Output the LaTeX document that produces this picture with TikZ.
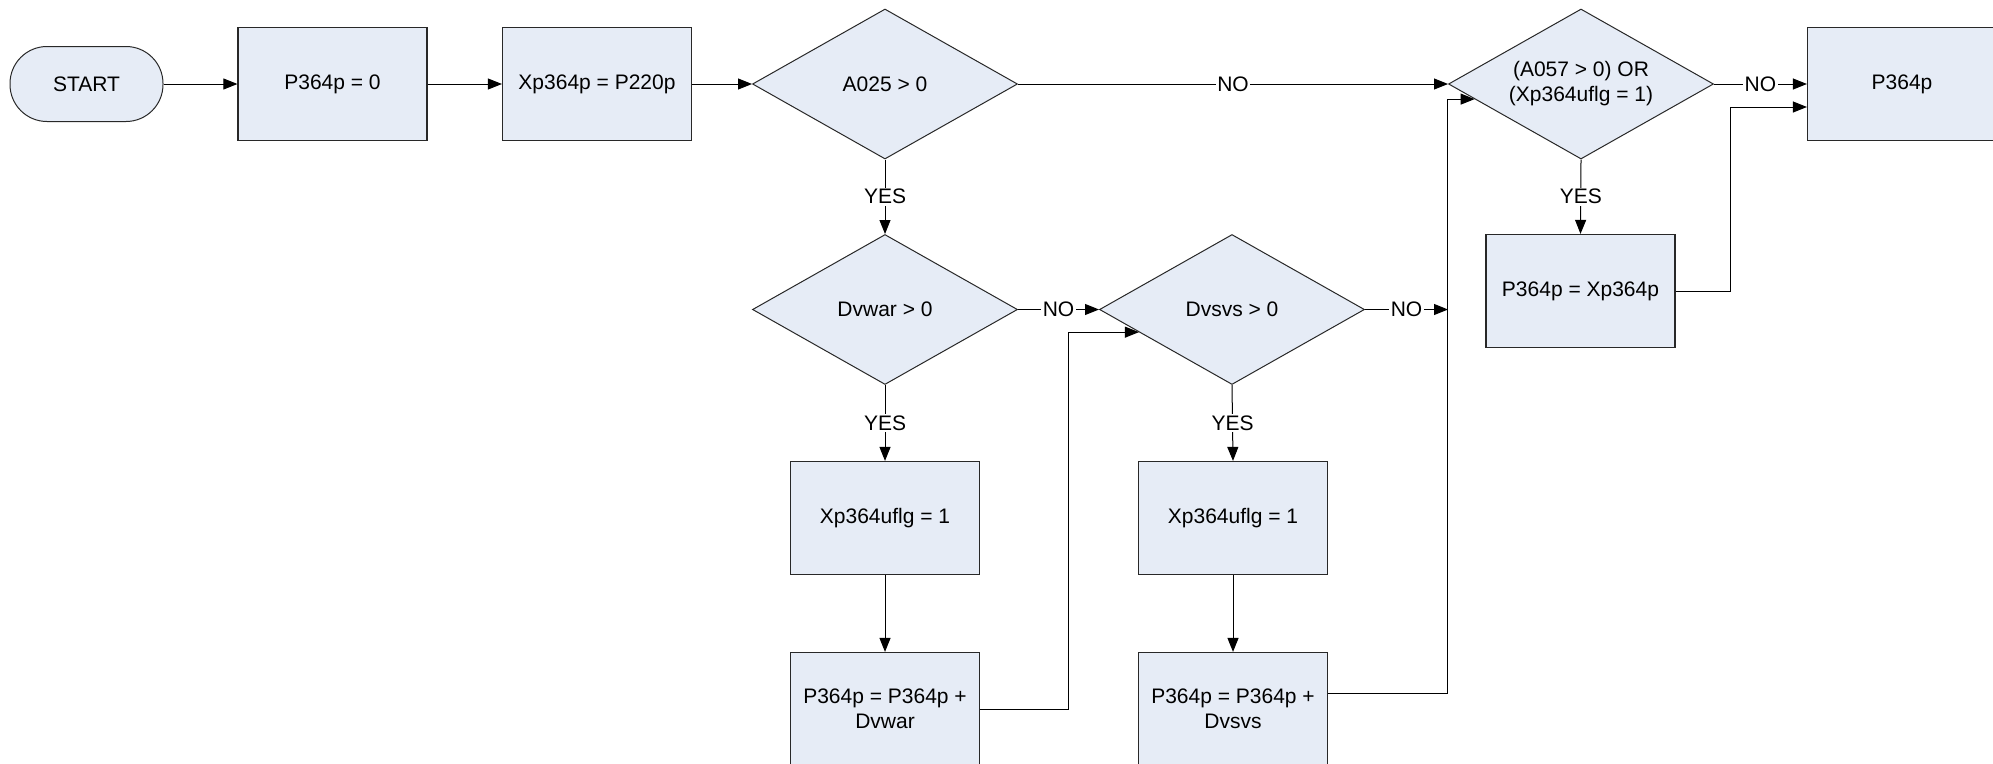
\documentclass[tikz,border=0pt]{standalone}
\usepackage{fontspec}
\setmainfont{Liberation Sans}
\usetikzlibrary{shapes.geometric,arrows.meta,calc}
\definecolor{boxfill}{RGB}{230,236,246}
\definecolor{boxline}{RGB}{40,40,40}
\begin{document}
\begin{tikzpicture}[x=1pt,y=-1pt,
  font=\fontsize{21}{25}\selectfont,
  proc/.style={draw=boxline, fill=boxfill, line width=1.2pt, minimum width=189pt, minimum height=113pt, inner sep=0pt, align=center},
  decision/.style={diamond, draw=boxline, fill=boxfill, line width=1pt, minimum width=265pt, minimum height=150pt, inner sep=0pt, aspect=1.77, align=center},
  term/.style={draw=boxline, fill=boxfill, line width=1pt, rounded corners=37pt, minimum width=153pt, minimum height=75pt, inner sep=0pt},
  arr/.style={draw=black, line width=1pt, -{Triangle[length=14pt,width=11pt]}},
  lbl/.style={fill=white, inner sep=1.5pt}
]
\useasboundingbox (0,0) rectangle (1993,763);
\clip (0,0) rectangle (1993,763);
\fill[white] (0,0) rectangle (1993,763);

\node[term] (start) at (86.5,84) {START};
\node[proc] (p0) at (332.5,84) {P364p = 0};
\node[proc] (xp) at (597,84) {Xp364p = P220p};
\node[decision] (a025) at (885,84) {A025 > 0};
\node[decision] (a057) at (1581,84) {(A057 > 0) OR\\(Xp364uflg = 1)};
\node[proc] (pout) at (1902,84) {P364p};

\node[decision] (dvwar) at (885,309.5) {Dvwar > 0};
\node[decision] (dvsvs) at (1232,309.5) {Dvsvs > 0};
\node[proc] (pxp) at (1580.5,291) {P364p = Xp364p};
\node[proc] (u1) at (885,518) {Xp364uflg = 1};
\node[proc] (u2) at (1233,518) {Xp364uflg = 1};
\node[proc] (s1) at (885,709) {P364p = P364p +\\Dvwar};
\node[proc] (s2) at (1233,709) {P364p = P364p +\\Dvsvs};

\coordinate (j2) at (1448,309.5);
\coordinate (t1) at ($(dvsvs.west)!0.3!(dvsvs.south)$);
\coordinate (t2) at ($(a057.west)!0.2!(a057.south)$);

\draw[arr] (start) -- (p0);
\draw[arr] (p0) -- (xp);
\draw[arr] (xp) -- (a025);
\draw[arr] (a025.east) -- node[lbl]{NO} (a057.west);
\draw[arr] (a057.east) -- node[lbl]{NO} (pout.west);
\draw[arr] (a025.south) -- node[lbl]{YES} (dvwar.north);
\draw[arr] (dvwar.east) -- node[lbl]{NO} (dvsvs.west);
\draw[arr] (dvsvs.east) -- node[lbl]{NO} (j2);
\draw[arr] (dvwar.south) -- node[lbl]{YES} (u1.north);
\draw[arr] (u1.south) -- (s1.north);
\draw[arr] (dvsvs.south) -- node[lbl]{YES} (u2.north);
\draw[arr] (u2.south) -- (s2.north);
\draw[arr] (a057.south) -- node[lbl]{YES} (pxp.north);
\draw[arr] (s1.east) -| ($(t1)+(-70,0)$) -- (t1);
\draw[arr] ($(s2.east)+(0,-16)$) -| ($(t2)+(-27,0)$) -- (t2);
\draw[arr] (pxp.east) -| ($(pout.west)+(-76,23)$) -- ($(pout.west)+(0,23)$);
\end{tikzpicture}
\end{document}
